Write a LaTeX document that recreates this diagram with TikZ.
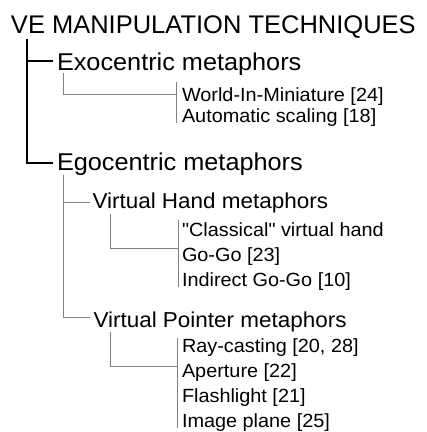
\documentclass[tikz,border=0pt]{standalone}
\usepackage{fontspec}
\setmainfont{Liberation Sans}[Ligatures=TeXOff]
\newfontfamily\widesans{Liberation Sans}[Ligatures=TeXOff,FakeStretch=1.04]
\begin{document}
\begin{tikzpicture}[x=1pt,y=-1pt,
  lbl/.style={anchor=base west,inner sep=0pt,outer sep=0pt,text=black},
  titletext/.style={lbl,font=\fontsize{25.5}{30}\selectfont},
  lvlone/.style={lbl,font=\widesans\fontsize{24.3}{28}\selectfont},
  lvltwo/.style={lbl,font=\widesans\fontsize{21.6}{25}\selectfont},
  leaf/.style={lbl,font=\widesans\fontsize{19.1}{22}\selectfont},
  mainline/.style={line width=2pt,black},
  subline/.style={line width=1pt,color=black!50}]
\useasboundingbox (0,0) rectangle (427,432);
% texts
\node[titletext] (t) at (11,33.3) {VE MANIPULATION TECHNIQUES};
\node[lvlone] (exo) at (57,70) {Exocentric metaphors};
\node[leaf] (wim) at (182,101.3) {World-In-Miniature [24]};
\node[leaf] (aut) at (182,122) {Automatic scaling [18]};
\node[lvlone] (ego) at (57,170.5) {Egocentric metaphors};
\node[lvltwo] (vh) at (92.5,208.5) {Virtual Hand metaphors};
\node[leaf] (cl) at (182,236) {"Classical" virtual hand};
\node[leaf] (gg) at (182,261) {Go-Go [23]};
\node[leaf] (igg) at (182,286) {Indirect Go-Go [10]};
\node[lvltwo] (vp) at (93.5,327) {Virtual Pointer metaphors};
\node[leaf] (rc) at (182,352) {Ray-casting [20, 28]};
\node[leaf] (ap) at (182,377) {Aperture [22]};
\node[leaf] (fl) at (182,402) {Flashlight [21]};
\node[leaf] (ip) at (182,427) {Image plane [25]};
% main tree
\coordinate (mtop) at (26.7,39);
\coordinate (exotick) at ([xshift=-4.5pt,yshift=9pt]exo.base west);
\coordinate (egotick) at ([xshift=-4.5pt,yshift=7.2pt]ego.base west);
\draw[mainline] (mtop) |- (egotick);
\draw[mainline] (mtop |- exotick) -- (exotick);
% exocentric children
\coordinate (exod) at (63.3,73);
\coordinate (exoj) at (176,94);
\coordinate (exobt) at (176,82);
\coordinate (exobb) at (176,122.5);
\draw[subline] (exod) |- (exoj);
\draw[subline] (exobt) -- (exobb);
% egocentric children
\coordinate (egod) at (63.3,175);
\draw[subline] (egod) |- ([xshift=-2.5pt,yshift=6.2pt]vh.base west);
\draw[subline] (egod) |- ([xshift=-3.5pt,yshift=9.7pt]vp.base west);
% virtual hand children
\coordinate (vhd) at (110.7,214);
\coordinate (vhj) at (178.3,248.3);
\coordinate (vhbt) at (178.3,220);
\coordinate (vhbb) at (178.3,287);
\draw[subline] (vhd) |- (vhj);
\draw[subline] (vhbt) -- (vhbb);
% virtual pointer children
\coordinate (vpd) at (110.7,331.7);
\coordinate (vpj) at (177.3,366.7);
\coordinate (vpbt) at (177.3,338);
\coordinate (vpbb) at (177.3,428);
\draw[subline] (vpd) |- (vpj);
\draw[subline] (vpbt) -- (vpbb);
\end{tikzpicture}
\end{document}
